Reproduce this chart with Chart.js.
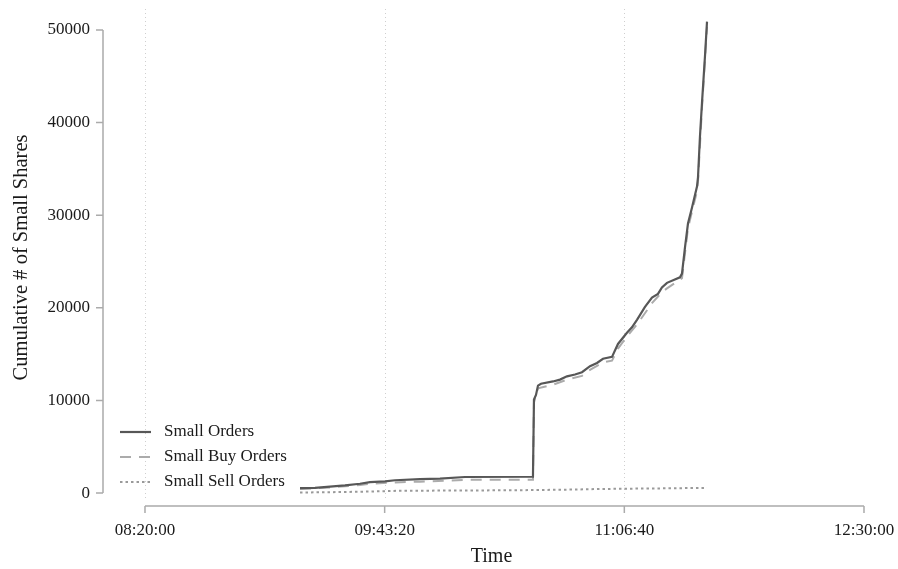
<!DOCTYPE html>
<html>
<head>
<meta charset="utf-8">
<script src="https://cdn.jsdelivr.net/npm/chart.js@4/dist/chart.umd.min.js"></script>
<style>
  html, body { margin: 0; padding: 0; background: #fff; }
  #wrap { width: 898px; height: 569px; }
</style>
</head>
<body>
<div id="wrap"><canvas id="c" width="898" height="569"></canvas></div>
<script>
// Axis ticks
const timeTicks = ['08:20:00', '09:43:20', '11:06:40', '12:30:00'];
const valueTicks = [0, 10000, 20000, 30000, 40000, 50000];

// Series names
const seriesLabels = ['Small Orders', 'Small Buy Orders', 'Small Sell Orders'];

// Cumulative small orders (all)
const smallTimes = ['09:13:54', '09:19:07', '09:24:19', '09:29:32', '09:34:45', '09:38:14', '09:43:27',
  '09:46:56', '09:55:37', '10:02:34', '10:11:16', '10:34:54', '10:35:15', '10:35:57', '10:36:39',
  '10:37:41', '10:41:52', '10:44:18', '10:46:44', '10:49:31', '10:51:57', '10:54:44', '10:57:10',
  '10:59:15', '11:02:23', '11:04:28', '11:07:35', '11:09:19', '11:11:04', '11:13:51', '11:16:17',
  '11:18:22', '11:19:45', '11:21:30', '11:26:01', '11:26:43', '11:27:45', '11:28:48', '11:30:11',
  '11:31:56', '11:32:17', '11:32:58', '11:33:40', '11:34:43', '11:35:25'];
const smallValues = [520, 560, 700, 820, 1000, 1180, 1250,
  1380, 1500, 1560, 1730, 1760, 10100, 10600, 11600,
  11800, 12050, 12250, 12600, 12800, 13050, 13700, 14050,
  14500, 14700, 16100, 17300, 17900, 18700, 20100, 21100,
  21500, 22200, 22700, 23300, 23700, 26500, 29100, 30800,
  33100, 34100, 38500, 42100, 47200, 50900];

// Cumulative small buy orders
const buyTimes = ['09:13:54', '09:24:19', '09:34:45', '09:38:14', '09:46:56', '09:55:37', '10:11:16',
  '10:34:54', '10:35:15', '10:36:39', '10:41:52', '10:46:44', '10:51:57', '10:54:44', '10:59:15',
  '11:02:23', '11:04:28', '11:07:35', '11:11:04', '11:16:17', '11:19:45', '11:21:30', '11:26:43',
  '11:28:48', '11:31:56', '11:32:17', '11:33:40', '11:35:25'];
const buyValues = [440, 600, 860, 1000, 1150, 1230, 1420,
  1440, 9800, 11300, 11700, 12250, 12650, 13300, 14100,
  14300, 15600, 16900, 18200, 20500, 21700, 22100, 23200,
  28600, 32600, 33600, 41600, 50350];

// Cumulative small sell orders
const sellTimes = ['09:13:54', '09:24:19', '09:34:45', '09:43:27', '09:48:00', '10:11:16',
  '10:35:15', '10:49:31', '10:57:10', '11:07:35', '11:21:30', '11:35:25'];
const sellValues = [60, 90, 140, 200, 250, 270, 320, 380, 430, 470, 510, 560];

function toSec(s) {
  const [h, m, sec] = s.split(':').map(Number);
  return h * 3600 + m * 60 + sec;
}
function toClock(v) {
  const h = Math.floor(v / 3600), m = Math.floor((v % 3600) / 60), s = Math.round(v % 60);
  return [h, m, s].map(n => String(n).padStart(2, '0')).join(':');
}
function pairs(times, values) {
  return times.map((t, i) => ({ x: toSec(t), y: values[i] }));
}

const tickSecs = timeTicks.map(toSec);
const SERIF = '"Liberation Serif", "DejaVu Serif", serif';
const AXIS_GREY = '#ababab';

// Range-frame axes, dotted time grid and an in-plot legend
const framePlugin = {
  id: 'frame',
  beforeDatasetsDraw(chart) {
    const { ctx, chartArea } = chart;
    const x = chart.scales.x;
    ctx.save();
    ctx.strokeStyle = '#cfcfcf';
    ctx.lineWidth = 1;
    ctx.setLineDash([1, 3]);
    tickSecs.slice(0, -1).forEach(v => {
      const px = Math.round(x.getPixelForValue(v)) + 0.5;
      ctx.beginPath();
      ctx.moveTo(px, chartArea.top);
      ctx.lineTo(px, chartArea.bottom - 6);
      ctx.stroke();
    });
    ctx.restore();
  },
  afterDraw(chart) {
    const { ctx, chartArea } = chart;
    const x = chart.scales.x, y = chart.scales.y;
    ctx.save();
    ctx.strokeStyle = AXIS_GREY;
    ctx.lineWidth = 1.5;
    ctx.setLineDash([]);
    // y axis
    const ax = chartArea.left;
    ctx.beginPath();
    ctx.moveTo(ax, y.getPixelForValue(valueTicks[0]));
    ctx.lineTo(ax, y.getPixelForValue(valueTicks[valueTicks.length - 1]));
    valueTicks.forEach(v => {
      const py = y.getPixelForValue(v);
      ctx.moveTo(ax, py);
      ctx.lineTo(ax - 7, py);
    });
    ctx.stroke();
    // x axis
    const ay = chartArea.bottom;
    ctx.beginPath();
    ctx.moveTo(x.getPixelForValue(tickSecs[0]), ay);
    ctx.lineTo(x.getPixelForValue(tickSecs[tickSecs.length - 1]), ay);
    tickSecs.forEach(v => {
      const px = x.getPixelForValue(v);
      ctx.moveTo(px, ay);
      ctx.lineTo(px, ay + 7);
    });
    ctx.stroke();

    // legend
    const lx0 = 120, lx1 = 151, tx = 164, ys = [432, 457, 482];
    ctx.font = '17px ' + SERIF;
    ctx.textBaseline = 'middle';
    ctx.textAlign = 'left';
    chart.data.datasets.forEach((ds, i) => {
      ctx.strokeStyle = ds.borderColor;
      ctx.lineWidth = ds.borderWidth;
      ctx.setLineDash(ds.borderDash || []);
      ctx.beginPath();
      ctx.moveTo(lx0, ys[i]);
      ctx.lineTo(lx1, ys[i]);
      ctx.stroke();
      ctx.fillStyle = '#1a1a1a';
      ctx.fillText(ds.label, tx, ys[i]);
    });
    ctx.restore();
  }
};

function noOverhang(s) {
  s.paddingTop = 0; s.paddingBottom = 0; s.paddingLeft = 0; s.paddingRight = 0;
}

new Chart(document.getElementById('c'), {
  type: 'line',
  data: {
    datasets: [
      { label: seriesLabels[0], data: pairs(smallTimes, smallValues),
        borderColor: '#575757', borderWidth: 2.2, borderDash: [] },
      { label: seriesLabels[1], data: pairs(buyTimes, buyValues),
        borderColor: '#ababab', borderWidth: 2, borderDash: [11, 8] },
      { label: seriesLabels[2], data: pairs(sellTimes, sellValues),
        borderColor: '#9a9a9a', borderWidth: 2, borderDash: [2.5, 3] }
    ]
  },
  options: {
    responsive: false,
    animation: false,
    events: [],
    elements: { point: { radius: 0 }, line: { tension: 0, fill: false } },
    layout: { padding: { left: 0, right: 18, top: 9, bottom: 0 } },
    plugins: { legend: { display: false }, tooltip: { enabled: false } },
    scales: {
      x: {
        type: 'linear',
        min: 29124,
        max: 45334,
        border: { display: false },
        grid: { display: false, drawTicks: false },
        afterBuildTicks: s => { s.ticks = tickSecs.map(v => ({ value: v })); },
        afterFit: s => { s.height = 63; noOverhang(s); },
        ticks: {
          padding: 14,
          color: '#1a1a1a',
          font: { family: SERIF, size: 17 },
          callback: v => toClock(v)
        },
        title: {
          display: true, text: 'Time', color: '#1a1a1a',
          font: { family: SERIF, size: 20 },
          padding: { top: 0, bottom: 0 }
        }
      },
      y: {
        type: 'linear',
        min: -1400,
        max: 52270,
        border: { display: false },
        grid: { display: false, drawTicks: false },
        afterBuildTicks: s => { s.ticks = valueTicks.map(v => ({ value: v })); },
        afterFit: s => { s.width = 103; noOverhang(s); },
        ticks: {
          padding: 13,
          color: '#1a1a1a',
          font: { family: SERIF, size: 17 },
          callback: v => String(v)
        },
        title: {
          display: true, text: 'Cumulative # of Small Shares', color: '#1a1a1a',
          font: { family: SERIF, size: 20.5 },
          padding: { top: 9, bottom: 0 }
        }
      }
    }
  },
  plugins: [framePlugin]
});
</script>
</body>
</html>
